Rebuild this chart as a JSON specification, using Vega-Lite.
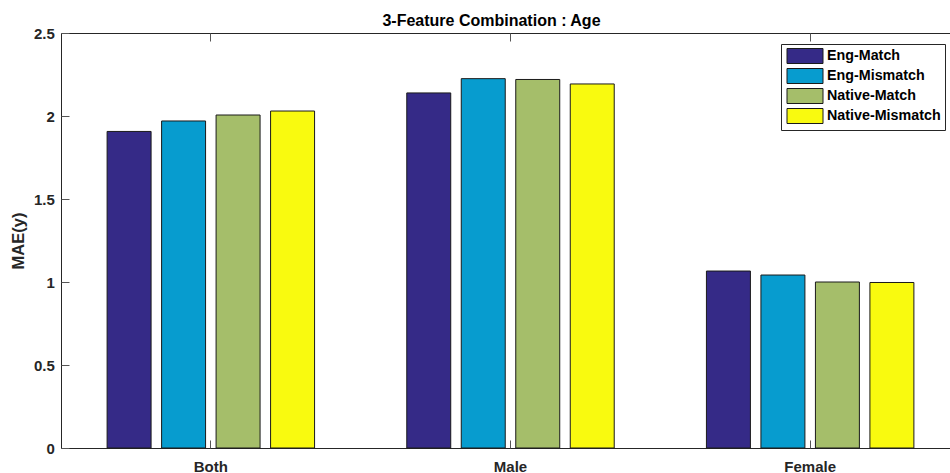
{
  "$schema": "https://vega.github.io/schema/vega-lite/v6.json",
  "autosize": {"type": "none"},
  "padding": {"left": 61, "top": 33, "right": 0, "bottom": 25},
  "width": 890,
  "height": 415,
  "background": "white",
  "config": {
    "font": "Liberation Sans",
    "view": {"stroke": "#262626", "strokeWidth": 1}
  },
  "title": {
    "text": "3-Feature Combination : Age",
    "fontSize": 16,
    "fontWeight": "bold",
    "color": "black",
    "anchor": "middle",
    "frame": "group",
    "dx": -14.5,
    "offset": -16,
    "baseline": "alphabetic"
  },
  "data": {
    "values": [
      {"subset": "Both", "condition": "Eng-Match", "mae": 1.907},
      {"subset": "Both", "condition": "Eng-Mismatch", "mae": 1.970},
      {"subset": "Both", "condition": "Native-Match", "mae": 2.006},
      {"subset": "Both", "condition": "Native-Mismatch", "mae": 2.030},
      {"subset": "Male", "condition": "Eng-Match", "mae": 2.139},
      {"subset": "Male", "condition": "Eng-Mismatch", "mae": 2.225},
      {"subset": "Male", "condition": "Native-Match", "mae": 2.220},
      {"subset": "Male", "condition": "Native-Mismatch", "mae": 2.193},
      {"subset": "Female", "condition": "Eng-Match", "mae": 1.066},
      {"subset": "Female", "condition": "Eng-Mismatch", "mae": 1.042},
      {"subset": "Female", "condition": "Native-Match", "mae": 1.000},
      {"subset": "Female", "condition": "Native-Mismatch", "mae": 0.997}
    ]
  },
  "layer": [
    {
      "mark": {"type": "bar", "stroke": "#1a1a1a", "strokeWidth": 1},
      "encoding": {
        "x": {
          "field": "subset",
          "type": "nominal",
          "sort": ["Both", "Male", "Female"],
          "scale": {"range": [0, 899], "paddingInner": 0, "paddingOuter": 0},
          "axis": {
            "title": null,
            "orient": "bottom",
            "domain": false,
            "tickSize": -8,
            "tickColor": "#555555",
            "labelAngle": 0,
            "labelFontSize": 15,
            "labelFontWeight": "bold",
            "labelColor": "#262626",
            "labelPadding": 31,
            "labelBaseline": "alphabetic"
          }
        },
        "xOffset": {
          "field": "condition",
          "type": "nominal",
          "sort": ["Eng-Match", "Eng-Mismatch", "Native-Match", "Native-Mismatch"],
          "scale": {"paddingInner": 0.193, "paddingOuter": 0.846}
        },
        "y": {
          "field": "mae",
          "type": "quantitative",
          "scale": {"domain": [0, 2.5], "nice": false},
          "axis": {
            "title": "MAE(y)",
            "values": [0, 0.5, 1, 1.5, 2, 2.5],
            "format": "~g",
            "domain": false,
            "grid": false,
            "tickSize": -8,
            "tickColor": "#555555",
            "labelPadding": 14.7,
            "labelFontSize": 15,
            "labelFontWeight": "bold",
            "labelColor": "#262626",
            "titleFontSize": 16.5,
            "titleFontWeight": "bold",
            "titleColor": "#262626",
            "titleX": -37.7,
            "titleY": 207.5,
            "titleAngle": -90,
            "titleAlign": "center",
            "titleBaseline": "alphabetic"
          }
        },
        "color": {
          "field": "condition",
          "type": "nominal",
          "sort": ["Eng-Match", "Eng-Mismatch", "Native-Match", "Native-Mismatch"],
          "scale": {
            "domain": ["Eng-Match", "Eng-Mismatch", "Native-Match", "Native-Mismatch"],
            "range": ["#352A87", "#079CCF", "#A5BE6A", "#F9FA0F"]
          },
          "legend": {
            "title": null,
            "orient": "none",
            "legendX": 720,
            "legendY": 11,
            "symbolType": "M-2.4,-1H2.4V1H-2.4Z",
            "symbolSize": 225,
            "symbolStrokeColor": "#1a1a1a",
            "symbolStrokeWidth": 1,
            "symbolOpacity": 1,
            "symbolOffset": 12,
            "labelOffset": 14,
            "labelFontSize": 14.3,
            "labelFontWeight": "bold",
            "labelColor": "black",
            "padding": 4,
            "rowPadding": 0,
            "strokeColor": "#262626",
            "fillColor": "white"
          }
        }
      }
    },
    {
      "mark": {"type": "bar", "opacity": 0},
      "encoding": {
        "x": {
          "field": "subset",
          "type": "nominal",
          "sort": ["Both", "Male", "Female"],
          "axis": {
            "title": null,
            "orient": "top",
            "domain": false,
            "labels": false,
            "tickSize": -8,
            "tickColor": "#555555"
          }
        },
        "xOffset": {
          "field": "condition",
          "type": "nominal",
          "sort": ["Eng-Match", "Eng-Mismatch", "Native-Match", "Native-Mismatch"]
        },
        "y": {"field": "mae", "type": "quantitative"}
      }
    }
  ],
  "resolve": {"axis": {"x": "independent"}}
}
